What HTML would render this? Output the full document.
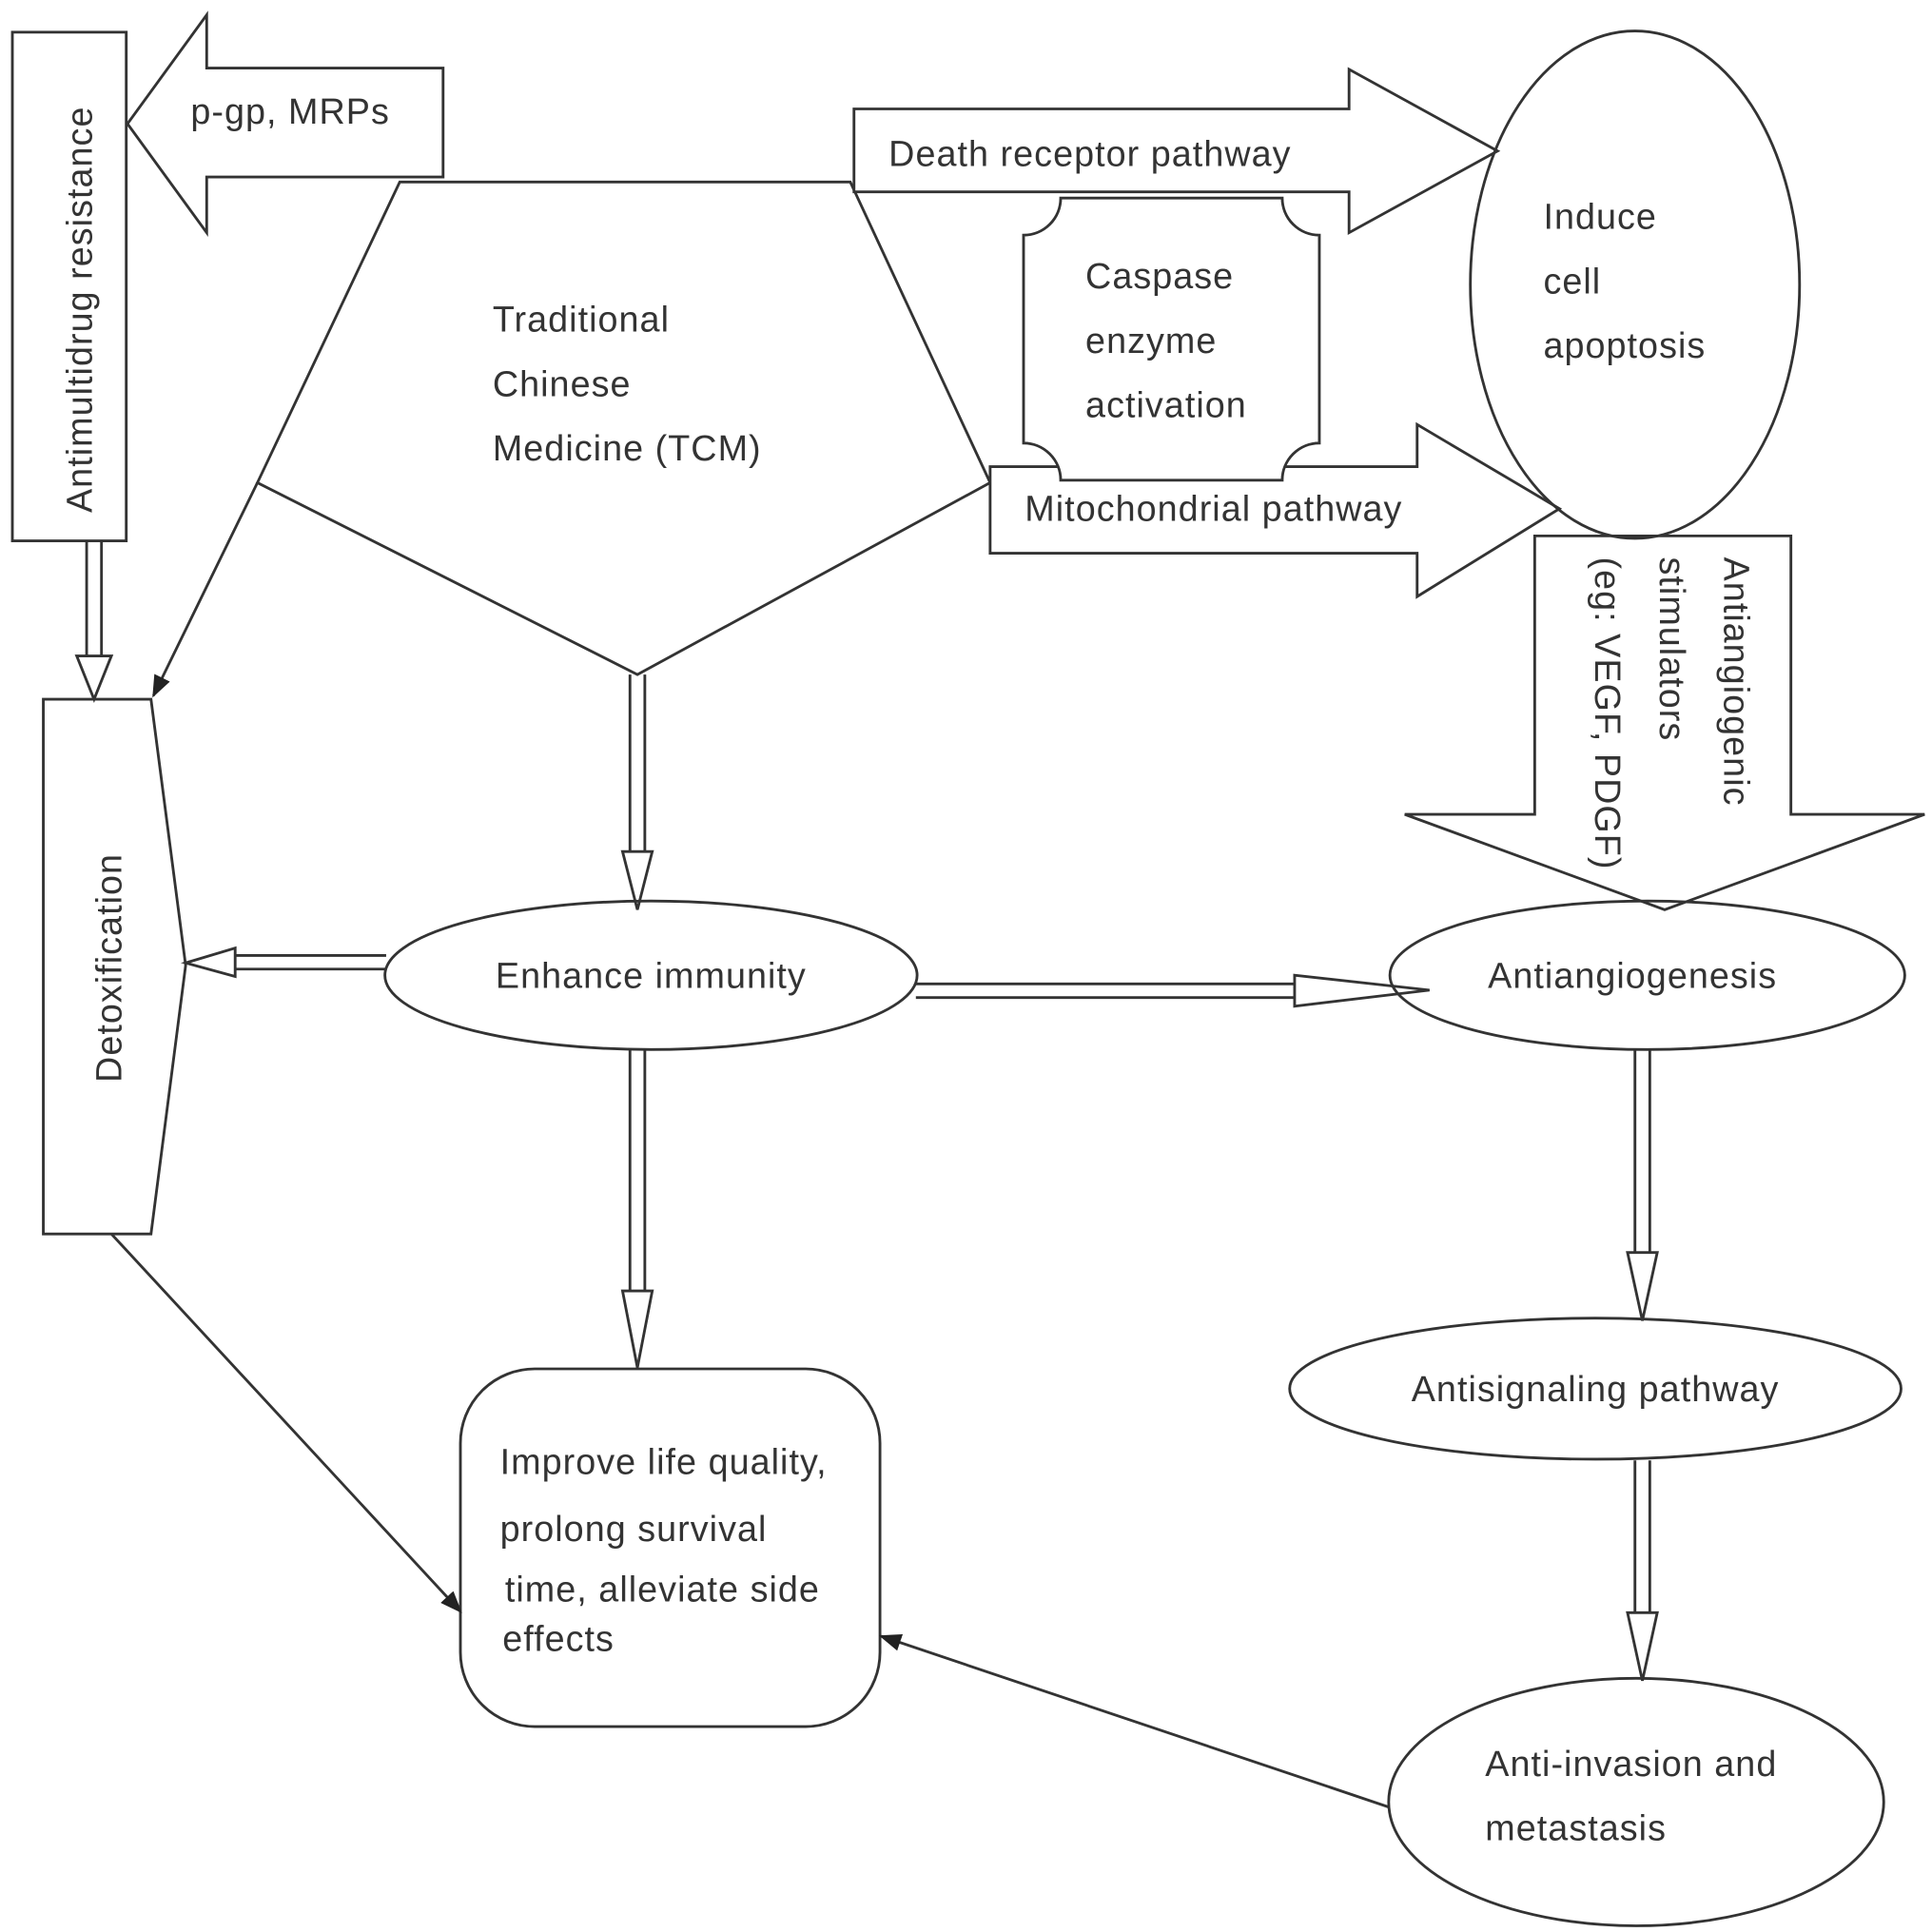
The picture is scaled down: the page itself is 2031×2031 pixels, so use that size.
<!DOCTYPE html>
<html><head><meta charset="utf-8"><style>html,body{margin:0;padding:0;background:#fff}svg{display:block}</style></head>
<body>
<svg width="2031" height="2031" viewBox="0 0 1561 1561" xmlns="http://www.w3.org/2000/svg" font-family="Liberation Sans, sans-serif" font-size="29" letter-spacing="0.8" fill="#333">
<defs><marker id="ah" markerWidth="18" markerHeight="14" refX="16" refY="7" orient="auto" markerUnits="userSpaceOnUse" viewBox="0 0 18 14"><path d="M0,0 L18,7 L0,14 z" fill="#222"/></marker></defs>
<g fill="none" stroke="#333" stroke-width="2.2">
<rect x="10" y="26" width="92" height="411"/>
<polygon points="103,100 167,12 167,55 358,55 358,143 167,143 167,188"/>
<polygon points="323,147 687,147 800,390 515,545 208,390"/>
<polygon points="690,88 1090,88 1090,56 1210,122 1090,188 1090,155 690,155" fill="#fff"/>
<polygon points="800,377 1145,377 1145,343 1260,411 1145,482 1145,447 800,447" fill="#fff"/>
<path d="M857,160 L1036,160 A30,30 0 0 0 1066,190 L1066,358 A30,30 0 0 0 1036,388 L857,388 A30,30 0 0 0 827,358 L827,190 A30,30 0 0 0 857,160 Z" fill="#fff"/>
<ellipse cx="1321" cy="230" rx="133" ry="205"/>
<polygon points="1240,433 1447,433 1447,658 1555,658 1345,735 1135,658 1240,658"/>
<polygon points="35,565 122,565 150,780 122,997 35,997"/>
<path d="M70,437 V530 M82,437 V530"/><polygon points="62,530 90,530 76,565"/>
<line x1="208" y1="390" x2="124" y2="562" marker-end="url(#ah)"/>
<path d="M509,545 V688 M521,545 V688"/><polygon points="503,688 527,688 515,735"/>
<ellipse cx="526" cy="788" rx="215" ry="60"/>
<path d="M312,772 H190 M312,783 H190"/><polygon points="190,766 190,789 150,778"/>
<path d="M740,795 H1046 M740,806 H1046"/><polygon points="1046,788 1046,813 1155,800"/>
<ellipse cx="1331" cy="788" rx="208" ry="60"/>
<path d="M509,848 V1043 M521,848 V1043"/><polygon points="503,1043 527,1043 515,1105"/>
<rect x="372" y="1106" width="339" height="289" rx="60"/>
<path d="M1321,848 V1012 M1333,848 V1012"/><polygon points="1315,1012 1339,1012 1327,1067"/>
<ellipse cx="1289" cy="1122" rx="247" ry="57"/>
<path d="M1321,1180 V1303 M1333,1180 V1303"/><polygon points="1315,1303 1339,1303 1327,1358"/>
<ellipse cx="1322" cy="1456" rx="200" ry="100"/>
<line x1="1122" y1="1460" x2="712" y2="1322" marker-end="url(#ah)"/>
<line x1="90" y1="997" x2="372" y2="1302" marker-end="url(#ah)"/>
</g>
<text transform="translate(74,250) rotate(-90)" text-anchor="middle">Antimultidrug resistance</text>
<text x="154" y="100">p-gp, MRPs</text>
<text x="398" y="268">Traditional</text>
<text x="398" y="320">Chinese</text>
<text x="398" y="372">Medicine (TCM)</text>
<text x="718" y="134">Death receptor pathway</text>
<text x="877" y="233">Caspase</text>
<text x="877" y="285">enzyme</text>
<text x="877" y="337">activation</text>
<text x="828" y="421">Mitochondrial pathway</text>
<text x="1247" y="185">Induce</text>
<text x="1247" y="237">cell</text>
<text x="1247" y="289">apoptosis</text>
<text transform="translate(1393,450) rotate(90)">Antiangiogenic</text>
<text transform="translate(1341,450) rotate(90)">stimulators</text>
<text transform="translate(1289,450) rotate(90)">(eg: VEGF, PDGF)</text>
<text transform="translate(98,782) rotate(-90)" text-anchor="middle">Detoxification</text>
<text x="526" y="798" text-anchor="middle">Enhance immunity</text>
<text x="1319" y="798" text-anchor="middle">Antiangiogenesis</text>
<text x="1289" y="1132" text-anchor="middle">Antisignaling pathway</text>
<text x="404" y="1191">Improve life quality,</text>
<text x="404" y="1245">prolong survival</text>
<text x="408" y="1294">time, alleviate side</text>
<text x="406" y="1334">effects</text>
<text x="1200" y="1435">Anti-invasion and</text>
<text x="1200" y="1487">metastasis</text>
</svg>
</body></html>
